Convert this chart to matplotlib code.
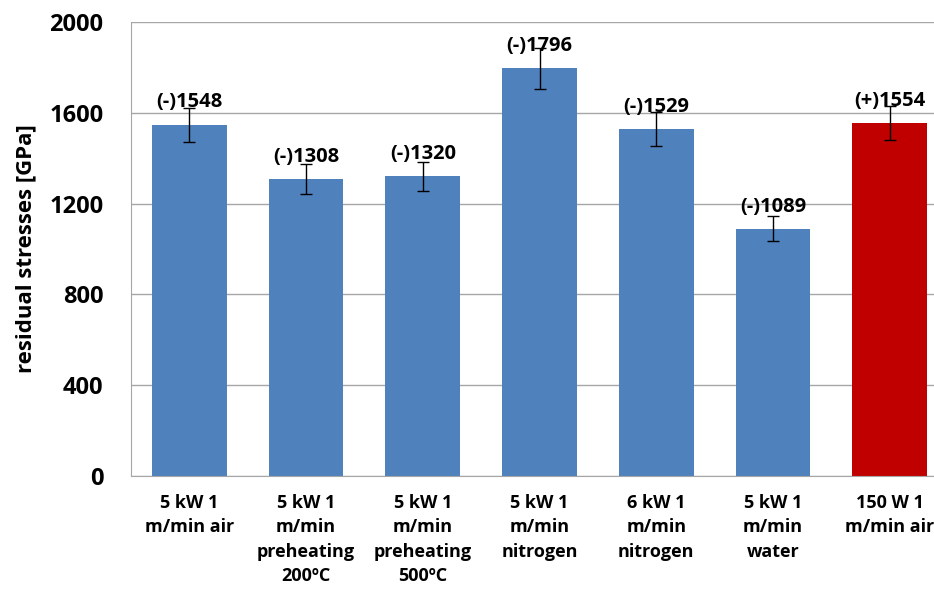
import matplotlib.pyplot as plt
import numpy as np

categories = ["5 kW 1\nm/min air", "5 kW 1\nm/min\npreheating\n200ºC",
              "5 kW 1\nm/min\npreheating\n500ºC", "5 kW 1\nm/min\nnitrogen",
              "6 kW 1\nm/min\nnitrogen", "5 kW 1\nm/min\nwater", "150 W 1\nm/min air"]
values = [1548, 1308, 1320, 1796, 1529, 1089, 1554]
errors = [75, 65, 65, 90, 75, 55, 75]
signs = ["(-)", "(-)", "(-)", "(-)", "(-)", "(-)", "(+)"]
colors = ["#4F81BD"] * 6 + ["#C00000"]

plt.rcParams['font.family'] = ['Open Sans', 'DejaVu Sans']
plt.rcParams['font.weight'] = 'bold'

fig = plt.figure(figsize=(9.34, 5.95), dpi=100)
ax = fig.add_axes([131/934, 0.2, 817/934, 454/595])

x = np.arange(len(values))
ax.bar(x, values, width=0.64, color=colors, zorder=2)
ax.errorbar(x, values, yerr=errors, fmt='none', ecolor='black',
            elinewidth=1, capsize=4.5, capthick=1, zorder=3)

for xi, v, s in zip(x, values, signs):
    ax.annotate(s + str(v), (xi, v), xytext=(0, 16), textcoords='offset points',
                ha='center', va='center', fontsize=14.5, fontweight='bold')

ax.set_xlim(-0.5, 6.5)
ax.set_ylim(0, 2000)
ax.set_yticks([0, 400, 800, 1200, 1600, 2000])
ax.yaxis.grid(True, color='#A6A6A6', linewidth=1, zorder=0)
ax.set_axisbelow(True)
ax.set_xticks(x)
ax.set_xticklabels(categories, fontsize=13, fontweight='bold', linespacing=1.45)
ax.tick_params(axis='x', length=0, pad=13)
ax.tick_params(axis='y', length=0, pad=20, labelsize=17)
for t in ax.get_yticklabels():
    t.set_fontweight('bold')
ax.set_ylabel("residual stresses [GPa]", fontsize=16, fontweight='bold', labelpad=9)

for side in ['top', 'right']:
    ax.spines[side].set_visible(False)
ax.spines['left'].set_color('#A6A6A6')
ax.spines['bottom'].set_color('#A6A6A6')

fig.savefig("out.png", dpi=100)
